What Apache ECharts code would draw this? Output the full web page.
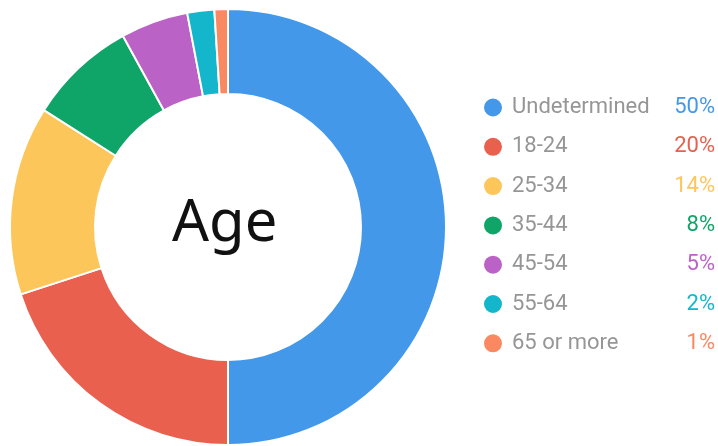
<!DOCTYPE html>
<html>
<head>
    <meta charset="utf-8">
    <title>Age</title>
    <script src="https://cdn.jsdelivr.net/npm/echarts@6/dist/echarts.min.js"></script>
</head>
<body style="margin:0;background:#fff;">
<div id="main" style="width: 718px;height:446px;"></div>
<script type="text/javascript">

    /* data */
    var categories = ['Undetermined', '18-24', '25-34', '35-44', '45-54', '55-64', '65 or more'];
    var shares = [50, 20, 14, 8, 5, 2, 1];
    var colors = ['#4398EA', '#E9604F', '#FDC65A', '#0FA468', '#BB62C6', '#13B6CB', '#FA8860'];

    var myChart = echarts.init(document.getElementById('main'));

    var rich = {
        n: {fontFamily: 'Roboto', fontSize: 22, lineHeight: 22, color: '#969696', width: 155, padding: [0, 0, 0, 4]},
    };
    categories.forEach(function (c, i) {
        rich['v' + i] = {fontFamily: 'Roboto', fontSize: 22, lineHeight: 22, color: colors[i], width: 48, align: 'right'};
    });

    myChart.setOption({
        color: colors,
        animation: false,
        graphic: [{
            type: 'text',
            left: 172,
            top: 195,
            style: {
                text: 'Age',
                fontFamily: 'Noto Sans',
                fontSize: 58,
                fill: '#111'
            }
        }],
        legend: {
            orient: 'vertical',
            left: 477,
            top: 91.5,
            icon: 'circle',
            itemWidth: 20,
            itemHeight: 20,
            itemGap: 17.3,
            selectedMode: false,
            data: categories,
            formatter: function (name) {
                var i = categories.indexOf(name);
                return '{n|' + name + '}{v' + i + '|' + shares[i] + '%}';
            },
            textStyle: {rich: rich}
        },
        series: [{
            type: 'pie',
            center: [228, 227],
            radius: [133, 218],
            startAngle: 90,
            clockwise: true,
            label: {show: false},
            labelLine: {show: false},
            itemStyle: {borderColor: '#fff', borderWidth: 2},
            emphasis: {disabled: true},
            data: categories.map(function (c, i) {
                return {name: c, value: shares[i]};
            })
        }]
    });

</script>
</body>
</html>
